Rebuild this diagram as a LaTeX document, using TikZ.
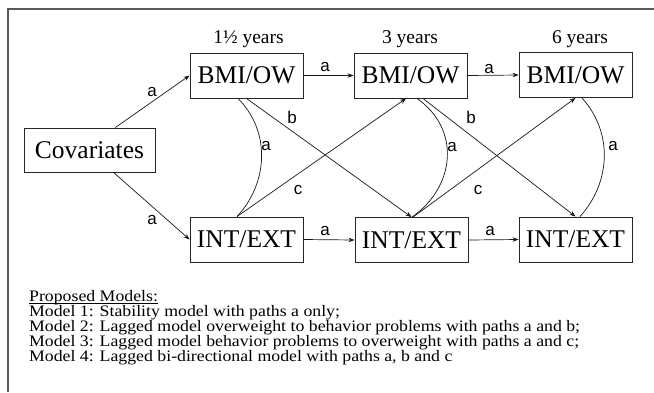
\documentclass[tikz,border=0pt]{standalone}
\usepackage{fontspec}
\setmainfont{Liberation Serif}
\newfontfamily\labfont{Liberation Sans}
\newfontfamily\modelfont{Liberation Serif}[FakeStretch=1.11]
\usetikzlibrary{arrows.meta,calc}
\begin{document}
\begin{tikzpicture}[x=1pt,y=1pt,
  box/.style={draw=black!85,line width=0.9pt,minimum width=113pt,minimum height=45pt,inner sep=0pt,font=\fontsize{25.5}{28}\selectfont},
  yearlab/.style={anchor=base,inner sep=0pt,font=\fontsize{19.5}{22}\selectfont},
  plab/.style={inner sep=0pt,font=\labfont\fontsize{17}{19}\selectfont},
  mline/.style={anchor=base west,inner sep=0pt,text height=10.5pt,text depth=3.5pt,font=\modelfont\fontsize{16}{16}\selectfont},
  conn/.style={draw=black!90,line width=0.7pt},
  arr/.style={conn,-{Stealth[length=6pt,width=4.5pt]}}
]
\useasboundingbox (0,0) rectangle (654,-392);
\fill[white] (0,0) rectangle (654,-392);
\draw[draw=black!65,line width=1.2pt] (8,-392) -- (8,-9) -- (654,-9);

% boxes
\node[box,minimum width=131pt,minimum height=44pt] (cov) at (89.5,-150) {Covariates};
\node[box] (bmi1) at (246.5,-75.5) {BMI/OW};
\node[box] (bmi2) at (410.5,-75.5) {BMI/OW};
\node[box] (bmi3) at (575.5,-75) {BMI/OW};
\node[box] (int1) at (246.5,-239.5) {INT/EXT};
\node[box] (int2) at (411.5,-240) {INT/EXT};
\node[box] (int3) at (575.5,-239.5) {INT/EXT};

% year labels
\node[yearlab] (y1) at (248.5,-43) {1½ years};
\node[yearlab] (y2) at (410,-43) {3 years};
\node[yearlab] (y3) at (580,-43) {6 years};

% coordinates for offset endpoints
\coordinate (a1s) at ($(bmi1.south)+(-8.5,0)$);
\coordinate (a1e) at ($(int1.north)+(-9.5,0)$);
\coordinate (a2s) at ($(bmi2.south)+(6.5,0)$);
\coordinate (a2e) at ($(int2.north)+(0.5,0)$);
\coordinate (a3s) at ($(bmi3.south)+(6.5,0)$);
\coordinate (a3e) at ($(int3.north)+(4.5,0)$);
\coordinate (b2s) at ($(bmi2.south)+(12.5,0)$);
\coordinate (c1e) at ($(bmi2.south)+(-4.5,0)$);
\coordinate (c2s) at ($(int2.north)+(1.5,0)$);

% stability paths
\draw[arr] (cov.41) -- (bmi1.west);
\draw[arr] (cov.-43) -- (int1.west);
\draw[arr] (bmi1.east) -- (bmi2.west);
\draw[arr] (bmi2.east) -- (bmi3.west);
\draw[arr] (int1.east) -- (int2.west);
\draw[arr] (int2.east) -- (int3.west);

% cross-lagged paths
\draw[arr] (bmi1.south) -- (int2.north);
\draw[arr] (b2s) -- (int3.north);
\draw[arr] (a1e) -- (c1e);
\draw[arr] (c2s) -- (bmi3.south);

% within-time associations
\draw[conn] (a1s) to[out=-45,in=47] (a1e);
\draw[conn] (a2s) to[out=-35,in=35,looseness=1.15] (a2e);
\draw[conn] (a3s) to[out=-48,in=48] (a3e);

% path labels
\node[plab] (l1) at (152,-92) {a};
\node[plab] (l2) at (152,-220) {a};
\node[plab] (l3) at (325,-67) {a};
\node[plab] (l4) at (489,-69) {a};
\node[plab] (l5) at (325,-231) {a};
\node[plab] (l6) at (490,-231) {a};
\node[plab] (l7) at (292,-117.5) {b};
\node[plab] (l8) at (471,-117.5) {b};
\node[plab] (l9) at (298,-190) {c};
\node[plab] (l10) at (478,-190) {c};
\node[plab] (l11) at (266,-146) {a};
\node[plab] (l12) at (452,-147) {a};
\node[plab] (l13) at (613,-146) {a};

% model text
\node[mline] (m0) at (29,-301) {Proposed Models:};
\draw[line width=0.6pt] ($(m0.base west)+(0,-2)$) -- ($(m0.base east)+(0,-2)$);
\node[mline] (m1) at (29,-316) {Model 1: Stability model with paths a only;};
\node[mline] (m2) at (29,-331) {Model 2: Lagged model overweight to behavior problems with paths a and b;};
\node[mline] (m3) at (29,-346) {Model 3: Lagged model behavior problems to overweight with paths a and c;};
\node[mline] (m4) at (29,-361) {Model 4: Lagged bi-directional model with paths a, b and c};
\end{tikzpicture}
\end{document}
